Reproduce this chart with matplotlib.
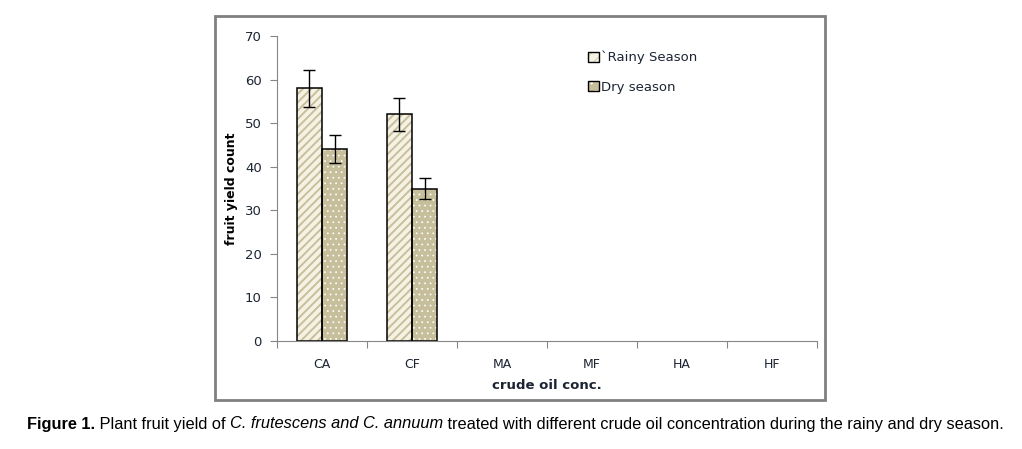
import numpy as np
import matplotlib
matplotlib.use('Agg')
import matplotlib.pyplot as plt
from matplotlib.patches import Rectangle, Patch
from matplotlib.legend_handler import HandlerTuple

# 데이터
categories = ['CA', 'CF', 'MA', 'MF', 'HA', 'HF']
rainy = [58, 52, 0, 0, 0, 0]
rainy_err = [4.2, 3.7, 0, 0, 0, 0]
dry = [44, 35, 0, 0, 0, 0]
dry_err = [3.2, 2.5, 0, 0, 0, 0]
series_names = ['`Rainy Season', 'Dry season']

W, H = 1022, 449
fig = plt.figure(figsize=(W / 100, H / 100), dpi=100)
plt.rcParams['font.family'] = 'DejaVu Sans'

tan = '#c7bf9b'
cream = '#f5f2e4'
txt = '#1c2433'

# 바깥 테두리
fig.patches.append(Rectangle((215 / W, 1 - 400 / H), 610 / W, 384 / H,
                             transform=fig.transFigure, fill=False,
                             edgecolor='#808080', linewidth=2))

ax = fig.add_axes([277 / W, 1 - 341 / H, 540 / W, 305 / H])

x = np.arange(len(categories)) + 0.5
bw = 0.278
mask = np.array(rainy) > 0
xr = x[mask] - bw / 2
xd = x[mask] + bw / 2
r = np.array(rainy)[mask]
d = np.array(dry)[mask]

# 줄무늬 / 점무늬 막대
plt.rcParams['hatch.linewidth'] = 1.4
ax.bar(xr, r, bw, color=cream, edgecolor=tan, hatch='////', linewidth=0)
h1a = Patch(facecolor=cream, edgecolor=tan, hatch='///', linewidth=0)
plt.rcParams['hatch.linewidth'] = 0.5
ax.bar(xd, d, bw, color=tan, edgecolor='white', hatch='...', linewidth=0)
h2a = Patch(facecolor=tan, edgecolor='white', hatch='..', linewidth=0)
ax.bar(xr, r, bw, fill=False, edgecolor='black', linewidth=1.1)
ax.bar(xd, d, bw, fill=False, edgecolor='black', linewidth=1.1)
ax.errorbar(xr, r, yerr=np.array(rainy_err)[mask], fmt='none', ecolor='black',
            elinewidth=1, capsize=4, capthick=1)
ax.errorbar(xd, d, yerr=np.array(dry_err)[mask], fmt='none', ecolor='black',
            elinewidth=1, capsize=4, capthick=1)

ax.set_xlim(0, len(categories))
ax.set_ylim(0, 70)
ax.set_yticks(range(0, 71, 10))
ax.set_xticks(np.arange(len(categories) + 1))
ax.set_xticklabels([])
ax.set_xticks(x, minor=True)
ax.set_xticklabels(categories, minor=True)
ax.tick_params(axis='x', which='minor', length=0, pad=12, labelsize=9, labelcolor=txt)
ax.tick_params(axis='x', which='major', length=5, color='#868686', direction='out')
ax.tick_params(axis='y', length=5, color='#868686', pad=6, labelsize=9.5, labelcolor=txt)
for s in ['top', 'right']:
    ax.spines[s].set_visible(False)
for s in ['left', 'bottom']:
    ax.spines[s].set_color('#868686')
ax.set_xlabel('crude oil conc.', fontsize=9.5, fontweight='bold', color=txt, labelpad=6)
ax.set_ylabel('fruit yield count', fontsize=9, fontweight='bold', color='black')
ax.yaxis.set_label_coords((238 - 277) / 540, 0.5)

# 범례
h1 = (h1a, Patch(fill=False, edgecolor='black', linewidth=1))
h2 = (h2a, Patch(fill=False, edgecolor='black', linewidth=1))
leg = fig.legend([h1, h2], series_names, loc='upper left',
                 bbox_to_anchor=(588 / W, 1 - 51 / H), frameon=False,
                 handler_map={tuple: HandlerTuple(ndivide=1, pad=0)},
                 handlelength=0.8, handleheight=0.8, handletextpad=0.2,
                 labelspacing=1.25, borderpad=0, borderaxespad=0, fontsize=9.5)
for t in leg.get_texts():
    t.set_color(txt)

# 캡션
pieces = [('Figure 1.', 'bold', 'normal'),
          (' Plant fruit yield of ', 'normal', 'normal'),
          ('C. frutescens and C. annuum', 'normal', 'italic'),
          (' treated with different crude oil concentration during the rainy and dry season.', 'normal', 'normal')]
fam = ['Liberation Sans Narrow', 'Liberation Sans', 'DejaVu Sans']
fig.canvas.draw()
renderer = fig.canvas.get_renderer()


def place(fs):
    objs = []
    xpos = 27
    for s, w, st in pieces:
        t = fig.text(xpos / W, 1 - 424 / H, s, fontsize=fs, fontweight=w, fontstyle=st,
                     family=fam, va='center', ha='left', color='black')
        xpos += t.get_window_extent(renderer).width
        objs.append(t)
    return objs, xpos - 27


objs, width = place(11)
fs = 11 * 976 / width
for o in objs:
    o.remove()
place(fs)

fig.savefig('out.png', dpi=100)
